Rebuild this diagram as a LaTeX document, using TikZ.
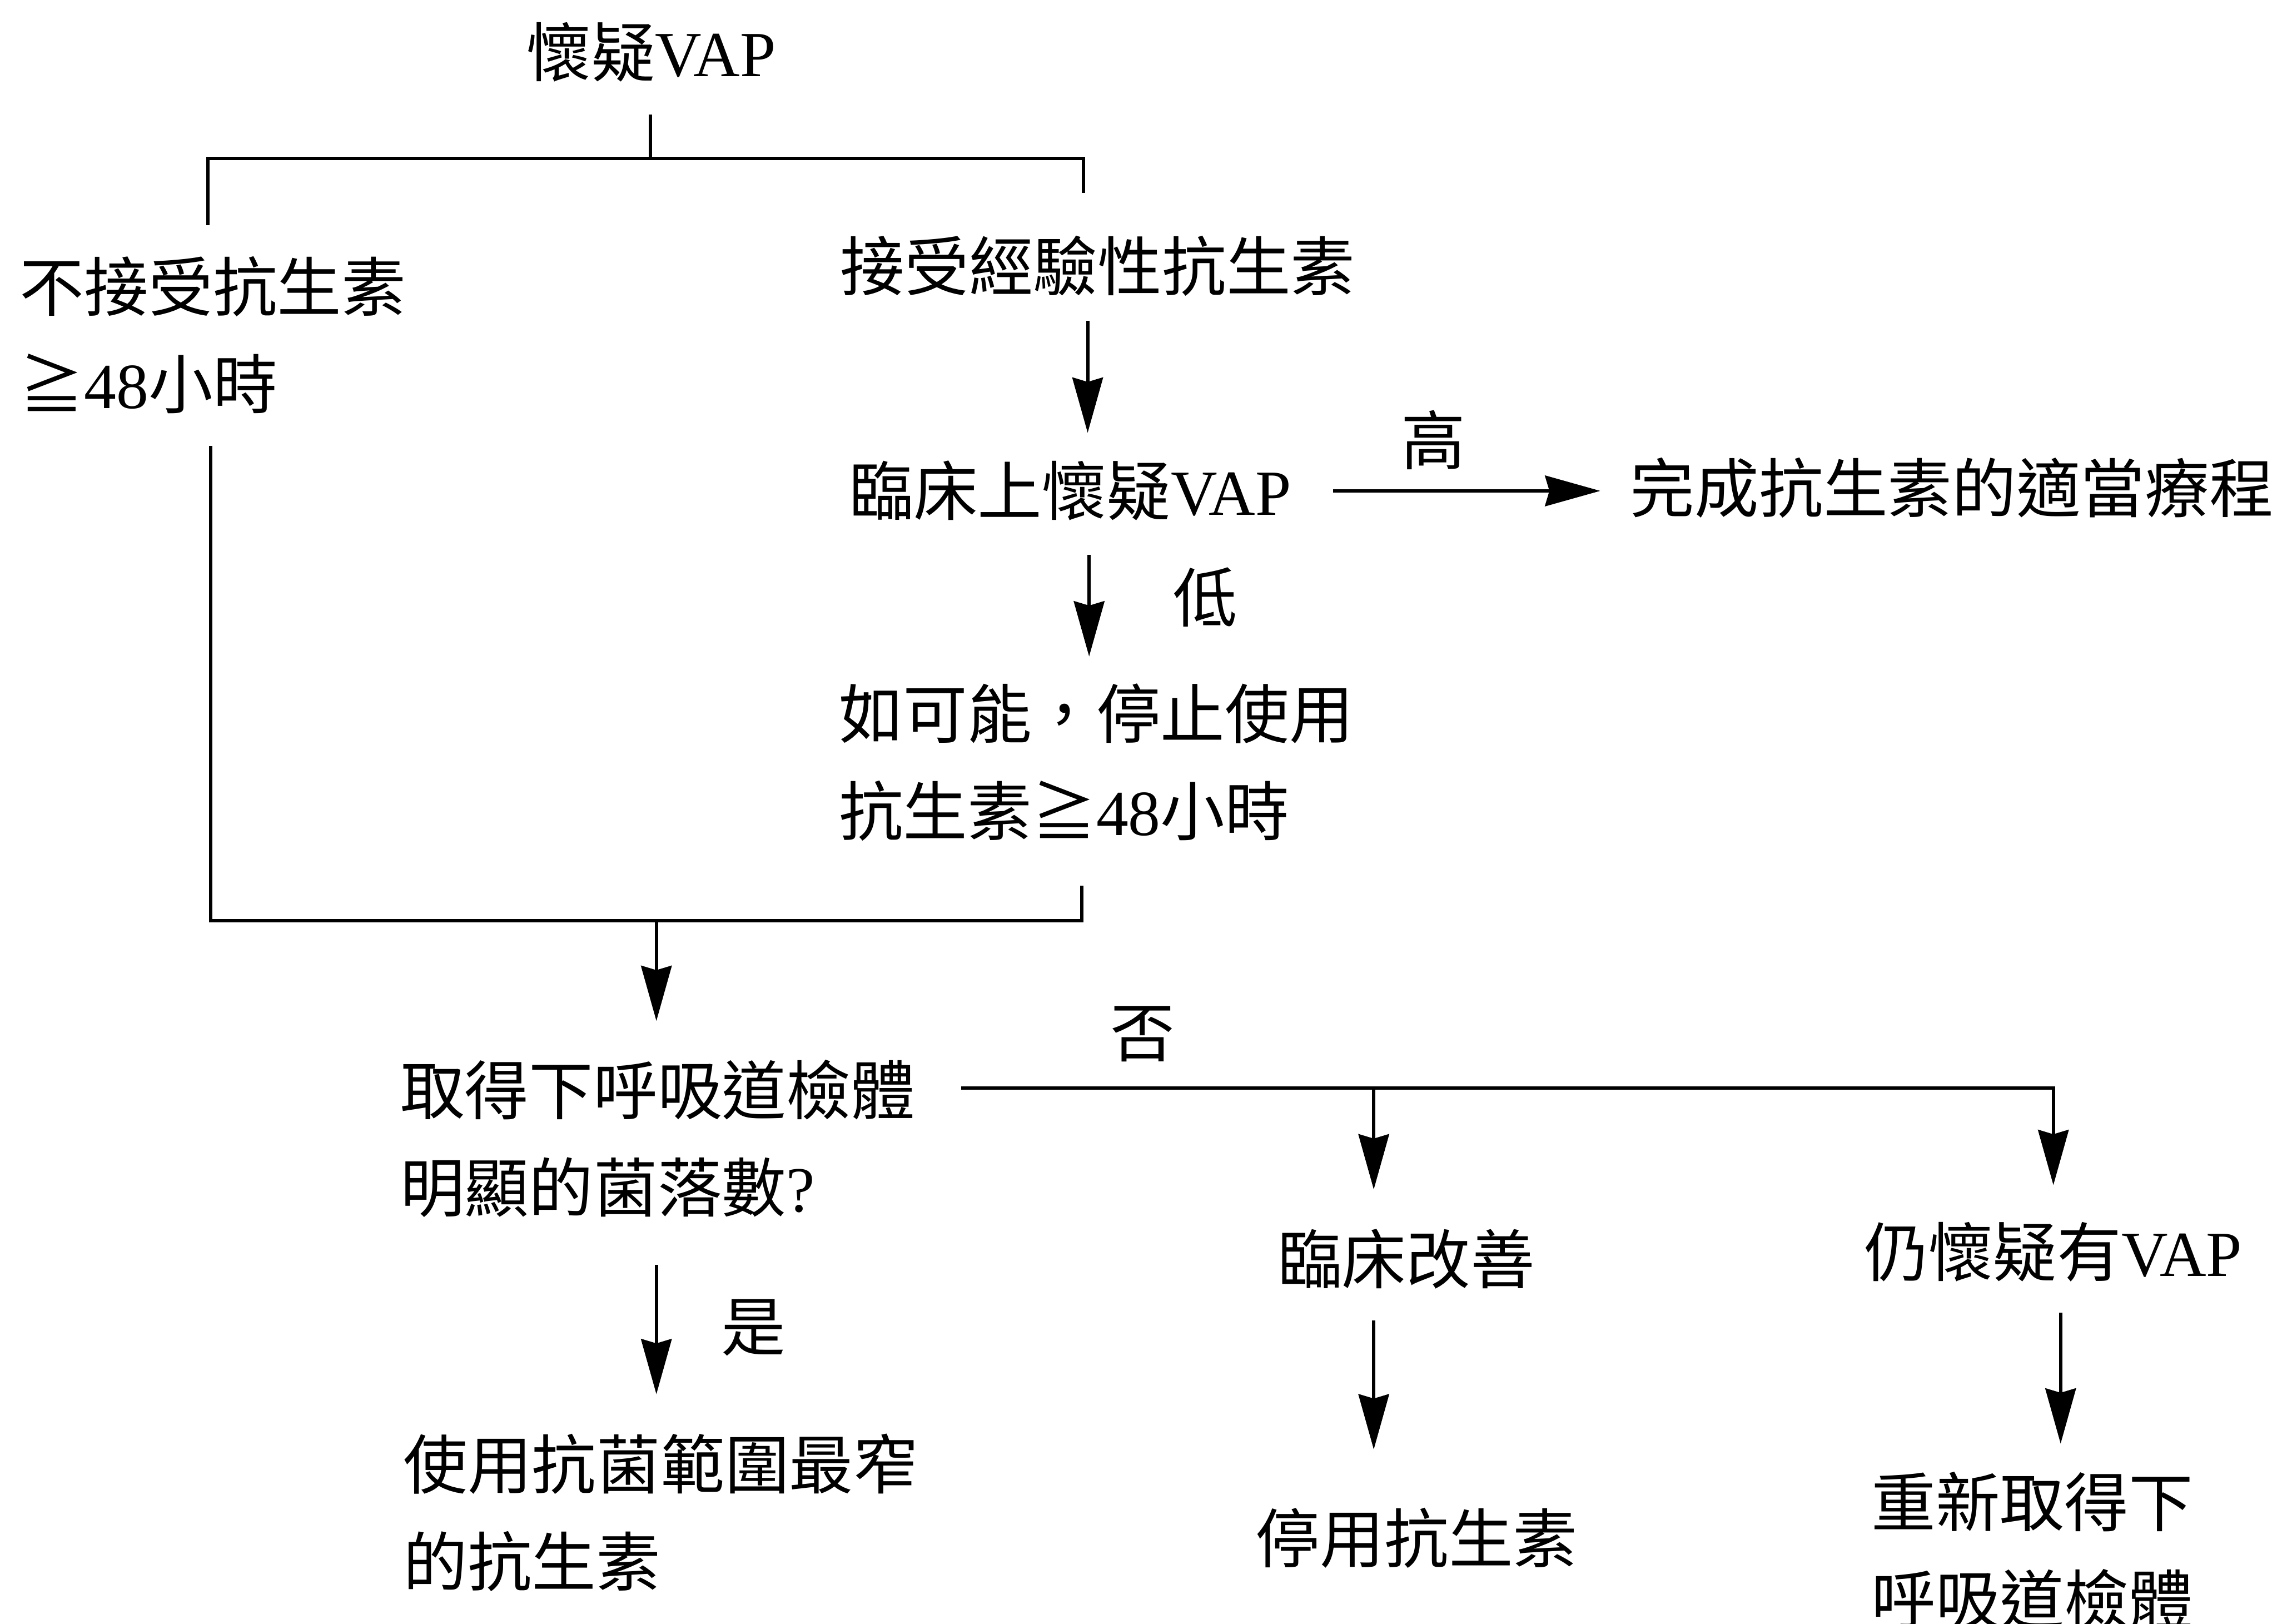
\documentclass[tikz,border=0pt]{standalone}
\usepackage{fontspec}
\setmainfont{Liberation Serif}
\newfontfamily\cjk{Noto Sans CJK TC}
\usetikzlibrary{arrows.meta}
\newcommand\zh[1]{{\cjk #1}}
\begin{document}
\begin{tikzpicture}[x=0.01cm,y=-0.01cm,
  txt/.style={anchor=west,inner sep=0pt,align=left,font=\fontsize{12.6pt}{0.67cm}\selectfont},
  lbl/.style={anchor=center,inner sep=0pt,font=\fontsize{12.6pt}{0.67cm}\selectfont},
  ln/.style={line width=0.65pt},
  arr/.style={line width=0.65pt,-{Stealth[length=0.38cm,width=0.21cm,inset=0.03cm]}}]
\useasboundingbox (0,0) rectangle (1568,1118);

% text nodes
\node[txt] (n0) at (362,36) {\zh{懷疑}VAP};
\node[txt] (n1) at (13,230.5) {\zh{不接受抗生素}\\\zh{≧}48\zh{小時}};
\node[txt] (n2) at (578,183) {\zh{接受經驗性抗生素}};
\node[txt] (n3) at (584,338) {\zh{臨床上懷疑}VAP};
\node[txt] (n4) at (1122,336) {\zh{完成抗生素的適當療程}};
\node[txt] (n5) at (577,525) {\zh{如可能，停止使用}\\\zh{抗生素≧}48\zh{小時}};
\node[txt] (n6) at (275,784) {\zh{取得下呼吸道檢體}\\\zh{明顯的菌落數}?};
\node[txt] (n7) at (277,1041.5) {\zh{使用抗菌範圍最窄}\\\zh{的抗生素}};
\node[txt] (n8) at (879,867) {\zh{臨床改善}};
\node[txt] (n9) at (864,1059) {\zh{停用抗生素}};
\node[txt] (n10) at (1283,862) {\zh{仍懷疑有}VAP};
\node[txt] (n11) at (1288,1067.5) {\zh{重新取得下}\\\zh{呼吸道檢體}};

% labels
\node[lbl] (lhigh) at (987,303) {\zh{高}};
\node[lbl] (llow) at (830,411) {\zh{低}};
\node[lbl] (lno) at (787,712) {\zh{否}};
\node[lbl] (lyes) at (519,914) {\zh{是}};

% junction coordinates
\coordinate (a0) at (448,79);
\coordinate (a1) at (448,109);
\coordinate (aL) at (143,155);
\coordinate (aLt) at (143,109);
\coordinate (aRt) at (746,109);
\coordinate (aR) at (746,133);
\coordinate (bL) at (145,307);
\coordinate (bLb) at (145,634);
\coordinate (bRb) at (745,634);
\coordinate (bR) at (745,610);
\coordinate (bM) at (452,634);
\coordinate (bMe) at (452,703);
\coordinate (c0) at (749,221);
\coordinate (c1) at (749,298);
\coordinate (d0) at (918,338);
\coordinate (d1) at (1102,338);
\coordinate (e0) at (750,382);
\coordinate (e1) at (750,452);
\coordinate (f0) at (662,749);
\coordinate (fR) at (1414,749);
\coordinate (fRe) at (1414,816);
\coordinate (fM) at (946,749);
\coordinate (fMe) at (946,819);
\coordinate (g0) at (452,871);
\coordinate (g1) at (452,960);
\coordinate (h0) at (946,909);
\coordinate (h1) at (946,998);
\coordinate (k0) at (1419,904);
\coordinate (k1) at (1419,994);

% connectors
\draw[ln] (a0) -- (a1);
\draw[ln] (aL) -- (aLt) -- (aRt) -- (aR);
\draw[ln] (bL) -- (bLb) -- (bRb) -- (bR);
\draw[arr] (bM) -- (bMe);
\draw[arr] (c0) -- (c1);
\draw[arr] (d0) -- (d1);
\draw[arr] (e0) -- (e1);
\draw[arr] (f0) -- (fR) -- (fRe);
\draw[arr] (fM) -- (fMe);
\draw[arr] (g0) -- (g1);
\draw[arr] (h0) -- (h1);
\draw[arr] (k0) -- (k1);
\end{tikzpicture}
\end{document}
